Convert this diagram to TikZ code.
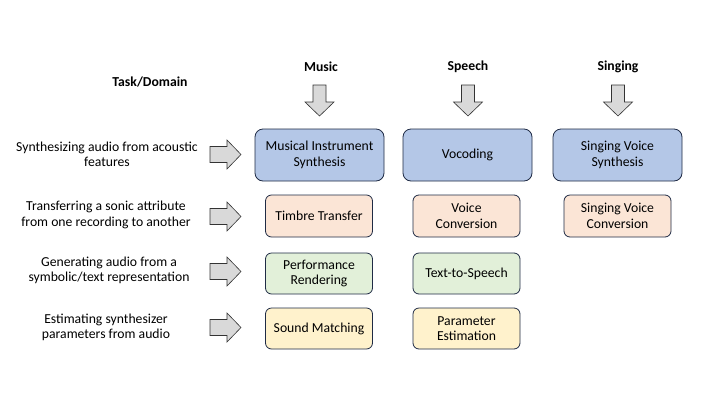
\documentclass[tikz,border=0pt]{standalone}
\usepackage{fontspec}
\setmainfont{Carlito}
\definecolor{blueF}{HTML}{B4C7E7}
\definecolor{orangeF}{HTML}{FBE5D6}
\definecolor{greenF}{HTML}{E2F0D9}
\definecolor{yellowF}{HTML}{FFF2CC}
\definecolor{edgeC}{HTML}{1F2B45}
\definecolor{arrF}{HTML}{D9D9D9}
\newcommand\myfs{\fontsize{13.7}{15.5}\selectfont}
\begin{document}
\begin{tikzpicture}[x=1pt,y=-1pt,
  txt/.style={font=\myfs, align=center, inner sep=0pt},
  hdr/.style={font=\myfs\bfseries, inner sep=0pt},
  bigbox/.style={draw=edgeC, line width=0.8pt, fill=blueF, rounded corners=8pt,
     minimum width=129pt, minimum height=52pt, inner sep=0pt, align=center,
     font=\myfs},
  smallbox/.style={draw=edgeC, line width=0.8pt, rounded corners=6pt,
     minimum width=107pt, minimum height=42pt, inner sep=0pt, align=center,
     font=\myfs},
  arrowshape/.style={draw=black!80, fill=arrF, line width=0.6pt, line join=miter},
  rarr/.pic={\draw[arrowshape] (-15.5,-8)--(1.5,-8)--(1.5,-14.5)--(15.5,0)--(1.5,14.5)--(1.5,8)--(-15.5,8)--cycle;},
  darr/.pic={\draw[arrowshape] (-6.5,-15.5)--(6.5,-15.5)--(6.5,1.5)--(14.5,1.5)--(0,15.5)--(-14.5,1.5)--(-6.5,1.5)--(-6.5,-15.5)--cycle;}
]
\useasboundingbox (0,0) rectangle (720,405);
\fill[white] (0,0) rectangle (720,405);

% headers
\node[hdr] (task) at (150,82) {Task/Domain};
\node[hdr] (music) at (321,67) {Music};
\node[hdr] (speech) at (468,67) {Speech};
\node[hdr] (singing) at (618,67) {Singing};

% down arrows
\pic at (319.5,100.5) {darr};
\pic at (468,100.5) {darr};
\pic at (618,100.5) {darr};

% row labels
\node[txt] (r1) at (107,154.5) {Synthesizing audio from acoustic\\features};
\node[txt] (r2) at (106,215) {Transferring a sonic attribute\\from one recording to another};
\node[txt] (r3) at (109,270.5) {Generating audio from a\\symbolic/text representation};
\node[txt] (r4) at (106,327.5) {Estimating synthesizer\\parameters from audio};

% right arrows
\pic at (225.5,154.5) {rarr};
\pic at (225.5,216.5) {rarr};
\pic at (225.5,271.5) {rarr};
\pic at (225.5,327.5) {rarr};

% row 1
\node[bigbox] (mis) at (319.5,155) {Musical Instrument\\Synthesis};
\node[bigbox] (voc) at (467.5,155) {Vocoding};
\node[bigbox] (svs) at (617.5,155) {Singing Voice\\Synthesis};

% row 2
\node[smallbox, fill=orangeF] (tt) at (319,216) {Timbre Transfer};
\node[smallbox, fill=orangeF] (vc) at (466.5,216) {Voice\\Conversion};
\node[smallbox, fill=orangeF] (svc) at (617.5,216) {Singing Voice\\Conversion};

% row 3
\node[smallbox, fill=greenF, minimum height=41pt] (pr) at (319,273.5) {Performance\\Rendering};
\node[smallbox, fill=greenF, minimum height=41pt] (tts) at (466.5,273.5) {Text-to-Speech};

% row 4
\node[smallbox, fill=yellowF, minimum height=41pt] (sm) at (319,328.5) {Sound Matching};
\node[smallbox, fill=yellowF, minimum height=41pt] (pe) at (466.5,328.5) {Parameter\\Estimation};
\end{tikzpicture}
\end{document}
